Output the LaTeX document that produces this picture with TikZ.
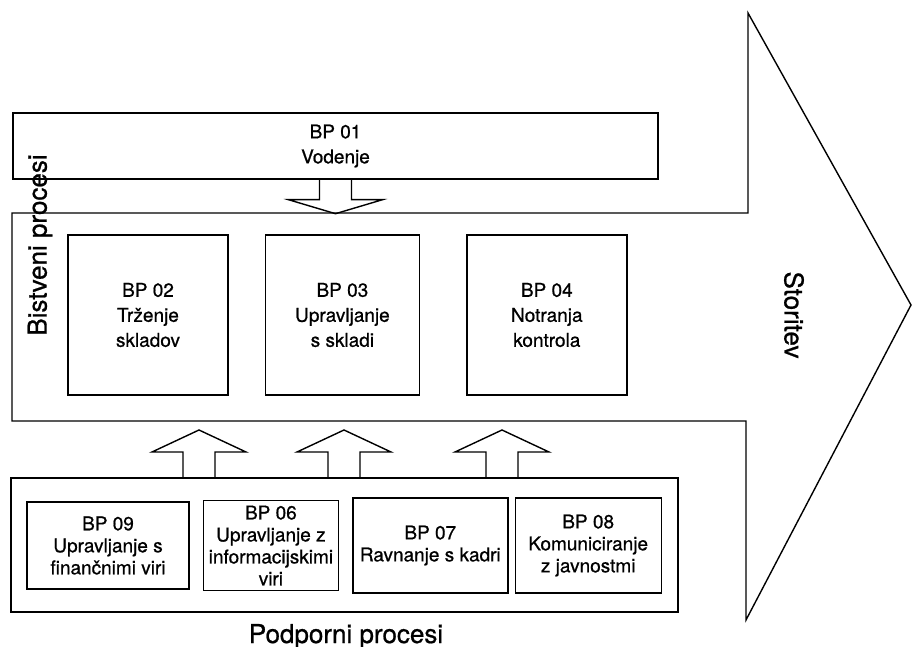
\documentclass[tikz,border=0pt]{standalone}
\usepackage{fontspec}
\setmainfont{TeX Gyre Heros}[FakeBold=0.8]
\usetikzlibrary{positioning}

\begin{document}
\begin{tikzpicture}[x=1pt, y=-1pt, line width=1.4pt,
  box/.style={draw, align=center, inner sep=1pt, font=\fontsize{19}{25}\selectfont},
  subbox/.style={box, font=\fontsize{19}{22}\selectfont},
  label/.style={inner sep=0pt, font=\fontsize{26}{30}\selectfont},
  uparr/.pic={\draw (-16,48) -- (-16,22) -- (-47,22) -- (0,0) -- (47,22) -- (16,22) -- (16,48);}]
   \useasboundingbox (0,0) rectangle (914,647);

   % Big arrow (Storitev)
   \draw (12,213) -- (748,213) -- (748,13) -- (911,305) -- (746,620) -- (746,421) -- (12,421) -- cycle;
   \node[label, rotate=-90] (storitev) at (794,315) {Storitev};
   \node[label, rotate=90] (bistveni) at (40,245) {Bistveni procesi};

   % Top box
   \node[box, minimum width=645, minimum height=66] (bp01) at (335.5,146) {BP 01\\Vodenje};
   \draw ([xshift=-16pt]bp01.south) -- ++(0,20) -- ++(-31,0) -- ++(47,14)
     -- ++(47,-14) -- ++(-31,0) -- ++(0,-20);

   % Core processes
   \node[box, minimum width=160, minimum height=160] (bp02) at (148,315) {BP 02\\Trženje\\skladov};
   \node[box, minimum width=154, minimum height=160] (bp03) [right=36pt of bp02] {BP 03\\Upravljanje\\s skladi};
   \node[box, minimum width=160, minimum height=160] (bp04) [right=46pt of bp03] {BP 04\\Notranja\\kontrola};

   % Support processes
   \node[draw, minimum width=667, minimum height=134] (support) at (344.5,545) {};
   \node[subbox, minimum width=162, minimum height=87] (bp09) at (108,545.5) {BP 09\\Upravljanje s\\finančnimi viri};
   \node[subbox, minimum width=135, minimum height=90] (bp06) [right=13pt of bp09] {BP 06\\Upravljanje z\\informacijskimi\\viri};
   \node[subbox, minimum width=155, minimum height=95] (bp07) [right=13pt of bp06] {BP 07\\Ravnanje s kadri};
   \node[subbox, minimum width=146, minimum height=95] (bp08) [right=6pt of bp07] {BP 08\\Komuniciranje\\z javnostmi};
   \node[label, anchor=base] (podporni) at (346,643) {Podporni procesi};

   % Arrows up
   \pic at (199,430) {uparr};
   \pic at (344,430) {uparr};
   \pic at (502,430) {uparr};
\end{tikzpicture}
\end{document}
